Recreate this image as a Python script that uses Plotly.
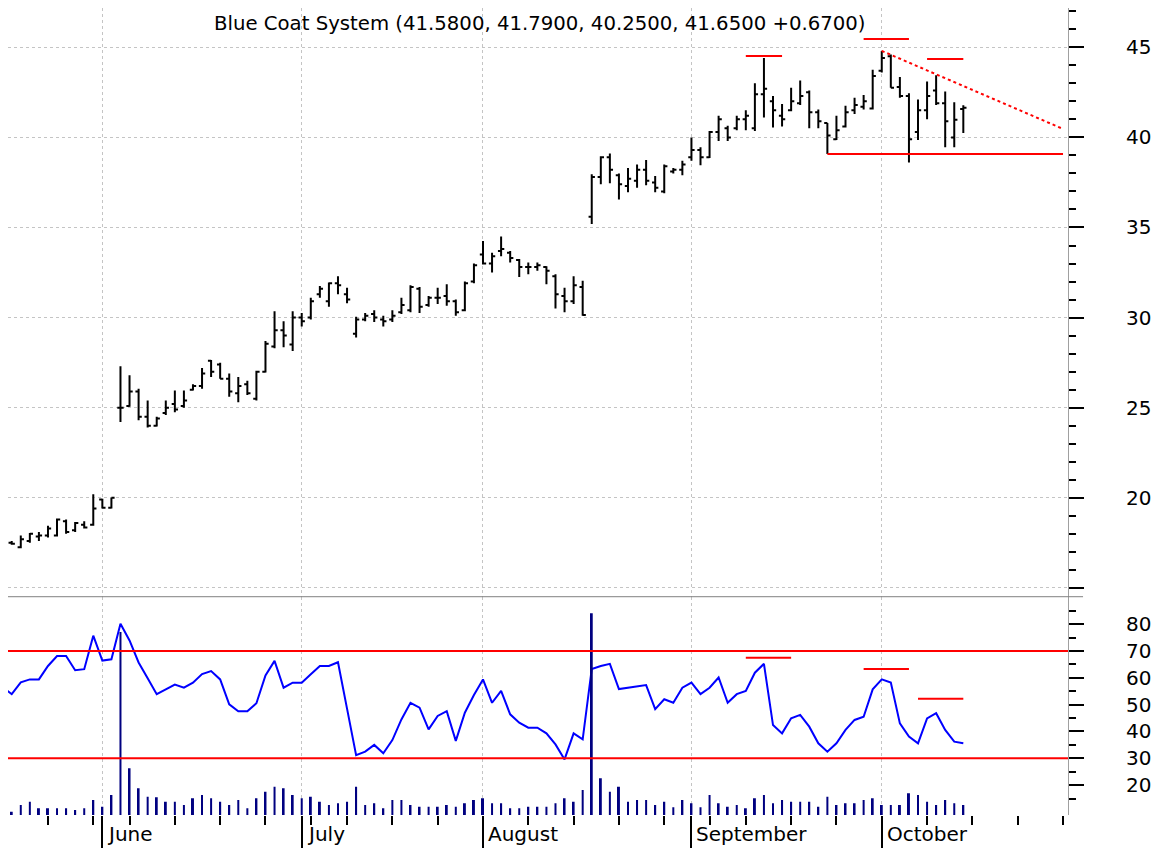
import plotly.graph_objects as go

# ---------------- data ----------------
bar_index = list(range(106))          # trading-day index, mid-May .. mid-October

opens = [17.5, 17.25, 17.6, 17.85, 17.9, 17.9, 18.7, 18.2, 18.5, 18.5,
         19.9, 19.45, 25.0, 25.1, 25.9, 24.5, 24.0, 24.7, 25.2, 25.1,
         26.0, 26.2, 27.6, 27.4, 26.6, 25.8, 26.3, 25.5, 27.0, 28.4,
         29.3, 28.5, 30.0, 30.0, 31.3, 30.9, 31.9, 31.3, 29.1, 29.9,
         30.2, 29.9, 29.9, 30.3, 30.4, 31.6, 30.7, 31.1, 31.2, 30.9,
         30.4, 32.0, 33.5, 33.0, 33.7, 33.6, 33.2, 32.8, 32.8, 32.8,
         32.3, 31.2, 30.9, 31.7, 35.6, 37.8, 38.9, 37.9, 37.3, 37.6,
         38.2, 37.5, 37.0, 38.1, 38.2, 38.9, 39.3, 38.9, 40.3, 40.5,
         40.5, 41.0, 40.5, 42.4, 42.0, 41.2, 41.5, 41.9, 42.5, 41.4,
         40.8, 39.9, 40.6, 41.5, 41.7, 41.6, 43.7, 44.5, 42.8, 42.3,
         40.3, 41.5, 42.6, 41.9, 40.0, 41.58]
highs = [17.6, 17.9, 18.05, 18.1, 18.45, 18.85, 18.8, 18.65, 18.7, 20.2,
         19.95, 20.0, 27.3, 26.8, 26.05, 25.4, 24.5, 25.4, 25.95, 25.95,
         26.3, 27.2, 27.65, 27.5, 26.9, 26.7, 26.5, 27.05, 28.7, 30.35,
         29.8, 30.35, 30.25, 31.1, 31.75, 31.95, 32.3, 31.65, 30.05, 30.25,
         30.4, 30.1, 30.4, 31.1, 31.8, 31.7, 31.2, 31.65, 31.85, 31.0,
         32.0, 33.0, 34.25, 33.6, 34.5, 33.7, 33.25, 33.05, 33.05, 32.85,
         32.4, 31.65, 32.3, 32.05, 37.95, 38.95, 39.1, 38.0, 38.3, 38.5,
         38.75, 37.85, 38.5, 38.3, 38.7, 40.0, 39.45, 40.35, 41.2, 40.65,
         41.2, 41.5, 43.0, 44.4, 42.3, 41.85, 42.75, 43.15, 42.6, 41.55,
         40.8, 41.2, 41.75, 42.2, 42.35, 43.75, 44.8, 44.6, 43.35, 42.45,
         42.1, 43.1, 43.45, 42.55, 41.95, 41.79]
lows = [17.4, 17.2, 17.5, 17.6, 17.8, 17.85, 18.0, 18.1, 18.3, 18.45,
        19.4, 19.4, 24.2, 25.05, 24.3, 23.9, 23.95, 24.6, 24.75, 25.0,
        25.95, 26.05, 26.7, 26.6, 25.6, 25.3, 25.7, 25.4, 26.95, 28.3,
        28.35, 28.15, 29.5, 29.9, 31.1, 30.6, 31.3, 30.8, 28.9, 29.8,
        29.75, 29.5, 29.75, 30.2, 30.3, 30.25, 30.6, 30.75, 30.65, 30.1,
        30.35, 31.9, 32.95, 32.5, 33.4, 33.05, 32.25, 32.4, 32.6, 31.85,
        30.5, 30.3, 30.75, 30.1, 35.2, 37.4, 37.45, 36.55, 36.95, 37.2,
        37.35, 36.95, 36.9, 38.0, 37.9, 38.7, 38.45, 38.85, 39.8, 39.8,
        40.4, 40.4, 40.35, 41.1, 40.55, 40.6, 41.45, 41.8, 40.5, 40.5,
        39.08, 39.85, 40.55, 41.3, 41.55, 41.55, 43.6, 42.75, 42.2, 38.6,
        39.85, 41.0, 41.8, 39.45, 39.45, 40.25]
closes = [17.45, 17.7, 18.0, 17.9, 18.3, 18.8, 18.1, 18.6, 18.35, 19.4,
          19.45, 20.0, 25.0, 25.9, 24.5, 24.0, 24.4, 25.0, 24.9, 25.4,
          26.2, 26.9, 27.0, 26.6, 25.9, 26.2, 25.8, 27.0, 28.55, 29.3,
          29.0, 30.0, 29.8, 30.9, 31.6, 31.9, 31.8, 31.0, 29.9, 30.1,
          30.0, 29.8, 30.1, 30.7, 31.7, 30.6, 31.1, 31.1, 30.9, 30.3,
          31.9, 32.9, 33.0, 33.4, 33.8, 33.3, 32.8, 32.8, 32.9, 32.6,
          31.3, 30.9, 31.8, 30.15, 37.8, 38.9, 38.2, 37.4, 37.7, 38.2,
          37.6, 37.2, 38.4, 38.2, 38.5, 39.3, 38.9, 40.3, 41.0, 40.0,
          41.0, 41.2, 42.4, 42.7, 41.5, 41.0, 42.0, 42.3, 41.4, 40.9,
          40.1, 40.4, 41.4, 41.8, 42.0, 43.4, 44.4, 42.75, 42.3, 39.9,
          41.5, 42.3, 41.9, 40.9, 40.98, 41.65]

# volume, thousands of shares
volume_k = [260, 800, 1060, 540, 540, 540, 540, 400, 540, 1200,
            660, 1600, 14640, 3740, 2140, 1460, 1420, 1060, 1060, 800,
            1340, 1600, 1340, 1060, 800, 1200, 540, 1340, 1860, 2260,
            2140, 1600, 1340, 1460, 1060, 800, 940, 1060, 2260, 800,
            940, 540, 1200, 1200, 800, 660, 660, 660, 800, 660,
            940, 1200, 1340, 940, 940, 540, 540, 660, 660, 660,
            940, 1340, 1060, 2000, 16140, 2940, 1860, 2260, 1060, 1200,
            1200, 800, 1060, 620, 1200, 940, 620, 1600, 940, 660,
            800, 540, 1340, 1600, 940, 1200, 1060, 1060, 1060, 660,
            1460, 800, 940, 940, 1200, 1340, 800, 800, 800, 1740,
            1600, 1060, 800, 1200, 940, 800]

rsi_index = list(range(-1, 106))
rsi = [56.5,
       53.9, 58.3, 59.4, 59.4, 64.4, 68.1, 68.1, 62.8, 63.2, 75.7,
       66.4, 66.9, 80.1, 73.9, 65.7, 59.8, 53.9, 55.7, 57.5, 56.3,
       58.2, 61.4, 62.5, 59.4, 50.1, 47.5, 47.5, 50.5, 60.9, 66.3,
       56.3, 58.2, 58.2, 61.3, 64.4, 64.4, 65.8, 48.5, 31.2, 32.5,
       35.0, 31.9, 36.8, 44.5, 50.7, 48.9, 40.8, 45.8, 47.6, 36.5,
       47.0, 53.6, 59.4, 50.7, 55.1, 46.4, 43.3, 41.4, 41.4, 39.3,
       35.2, 29.6, 39.3, 37.1, 63.3, 64.4, 65.2, 55.8, 56.3, 56.7,
       57.3, 48.3, 52.0, 50.7, 56.3, 58.2, 53.9, 56.3, 60.1, 50.7,
       53.9, 55.1, 61.9, 65.2, 42.4, 39.3, 44.9, 46.2, 41.8, 35.6,
       32.5, 35.6, 40.6, 44.3, 45.5, 55.7, 59.4, 58.2, 43.0, 38.1,
       35.6, 44.9, 46.8, 40.6, 36.2, 35.6]

month_index = [10, 32, 52, 75, 96]
month_labels = ["June", "July", "August", "September", "October"]
week_ticks = [4, 9, 13, 18, 23, 28, 33, 37, 42, 47, 57, 62, 67, 72, 77,
              81, 86, 91, 101, 106, 111, 116]

price_ticks = [15, 20, 25, 30, 35, 40, 45]
price_labels = ["", "20", "25", "30", "35", "40", "45"]
price_minor = [v for v in range(15, 48) if v % 5 != 0]
osc_ticks = [20, 30, 40, 50, 60, 70, 80]
osc_minor = [15, 25, 35, 45, 55, 65, 75, 85]
osc_levels = [70, 30]

title_text = "Blue Coat System (41.5800, 41.7900, 40.2500, 41.6500 +0.6700)"

# drawn annotations (bar index, value)
price_marks = [(81, 85, 44.52), (94, 99, 45.46), (101, 105, 44.35)]
support_line = (90, 116, 39.08)
trend_line = (96, 44.8, 116, 40.47)
osc_marks = [(81, 86, 67.5), (94, 99, 63.3), (100, 105, 52.2)]

# ---------------- figure ----------------
FONT = "DejaVu Sans"
GRID = "#c4c4c4"
SPLIT = 0.2705

fig = go.Figure()
fig.add_trace(go.Ohlc(
    x=bar_index, open=opens, high=highs, low=lows, close=closes,
    xaxis="x", yaxis="y", tickwidth=0.35,
    increasing=dict(line=dict(color="black", width=2)),
    decreasing=dict(line=dict(color="black", width=2)),
    showlegend=False, hoverinfo="skip"))
fig.add_trace(go.Bar(
    x=bar_index, y=volume_k, xaxis="x2", yaxis="y3", width=0.22,
    marker=dict(color="#000080", line=dict(width=0)), showlegend=False))
fig.add_trace(go.Scatter(
    x=rsi_index, y=rsi, xaxis="x2", yaxis="y2", mode="lines",
    line=dict(color="#0000FF", width=2), showlegend=False))

shapes = []
# separator between panels
shapes.append(dict(type="line", xref="paper", yref="paper", x0=0, x1=1.0142,
                   y0=SPLIT, y1=SPLIT, line=dict(color="#808080", width=1)))
for lv in osc_levels:
    shapes.append(dict(type="line", xref="paper", yref="y2", x0=0, x1=1,
                       y0=lv, y1=lv, line=dict(color="#FF0000", width=2)))
for a, b, v in price_marks:
    shapes.append(dict(type="line", xref="x", yref="y", x0=a, x1=b, y0=v, y1=v,
                       line=dict(color="#FF0000", width=2)))
a, b, v = support_line
shapes.append(dict(type="line", xref="x", yref="y", x0=a, x1=b, y0=v, y1=v,
                   line=dict(color="#FF0000", width=2)))
x0, y0, x1, y1 = trend_line
shapes.append(dict(type="line", xref="x", yref="y", x0=x0, x1=x1, y0=y0, y1=y1,
                   line=dict(color="#FF0000", width=2, dash="dot")))
for a, b, v in osc_marks:
    shapes.append(dict(type="line", xref="x2", yref="y2", x0=a, x1=b, y0=v, y1=v,
                       line=dict(color="#FF0000", width=2)))

annotations = [dict(text=title_text, xref="paper", yref="paper",
                    x=0.1925, y=0.9814, xanchor="left", yanchor="middle",
                    showarrow=False, font=dict(family=FONT, size=19.7, color="black"))]
for mi, ml in zip(month_index, month_labels):
    annotations.append(dict(text=ml, xref="x2", yref="paper", x=mi, y=-0.0235,
                            xanchor="left", yanchor="middle", xshift=3,
                            showarrow=False,
                            font=dict(family=FONT, size=20, color="black")))

tickfont = dict(family=FONT, size=20, color="black")
xr = [-0.41, 116.55]

# the page body adds an 8 px offset, so the figure is 8 px smaller each way
fig.update_layout(
    width=1158, height=840,
    margin=dict(l=0, r=98, t=0, b=33),
    paper_bgcolor="white", plot_bgcolor="white",
    showlegend=False,
    shapes=shapes, annotations=annotations,
    xaxis=dict(domain=[0, 1], anchor="y", range=xr, tickmode="array",
               tickvals=month_index, showticklabels=False, ticks="",
               showgrid=True, gridcolor=GRID, griddash="dot", gridwidth=1,
               zeroline=False, showline=False, rangeslider=dict(visible=False)),
    yaxis=dict(domain=[SPLIT, 1], anchor="x", side="right", range=[14.51, 47.18],
               tickmode="array", tickvals=price_ticks, ticktext=price_labels,
               ticks="outside", ticklen=15, tickwidth=2, tickcolor="black",
               showgrid=True, gridcolor=GRID, griddash="dot", gridwidth=1,
               minor=dict(tickmode="array", tickvals=price_minor, ticks="outside",
                          ticklen=7, tickwidth=2, tickcolor="black", showgrid=False),
               showline=True, linecolor="#a0a0a0", linewidth=1, zeroline=False,
               tickfont=tickfont, ticklabelstandoff=38),
    xaxis2=dict(domain=[0, 1], anchor="y2", matches="x", range=xr, tickmode="array",
                tickvals=month_index, showticklabels=False, ticks="outside",
                ticklen=33, tickwidth=2, tickcolor="black",
                showgrid=True, gridcolor=GRID, griddash="dot", gridwidth=1,
                minor=dict(tickmode="array", tickvals=week_ticks, ticks="outside",
                           ticklen=9, tickwidth=2, tickcolor="black", showgrid=False),
                zeroline=False, showline=False),
    yaxis2=dict(domain=[0, SPLIT], anchor="x2", side="right", range=[8.9, 90.2],
                tickmode="array", tickvals=osc_ticks, ticks="outside", ticklen=15,
                tickwidth=2, tickcolor="black", showgrid=False,
                minor=dict(tickmode="array", tickvals=osc_minor, ticks="outside",
                           ticklen=7, tickwidth=2, tickcolor="black", showgrid=False),
                showline=True, linecolor="#a0a0a0", linewidth=1, zeroline=False,
                tickfont=tickfont, ticklabelstandoff=38),
    yaxis3=dict(overlaying="y2", anchor="x2", range=[0, 17464], visible=False),
)

fig.write_html("out.html")
